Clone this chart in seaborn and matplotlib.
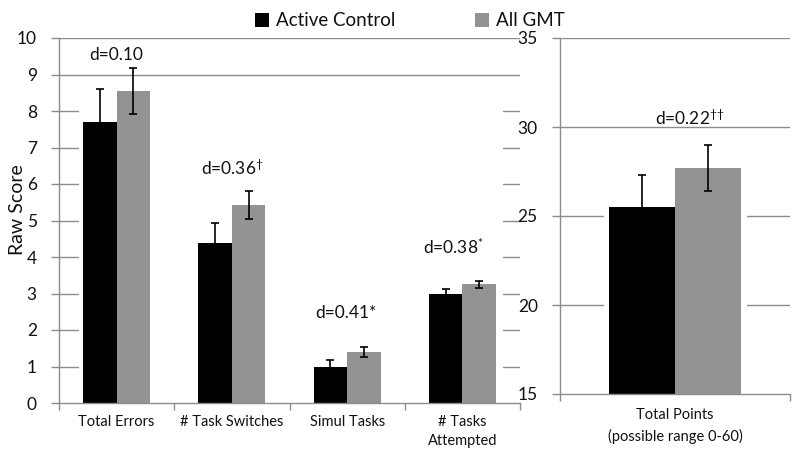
import matplotlib
matplotlib.use("Agg")
import matplotlib.pyplot as plt
import seaborn as sns
import pandas as pd
from matplotlib.patches import Patch

# ---------------- data ----------------
groups = ["Active Control", "All GMT"]
colors = ["#000000", "#939393"]

tasks = ["Total Errors", "# Task Switches", "Simul Tasks", "# Tasks\nAttempted"]
control_means = [7.70, 4.39, 0.98, 3.00]
control_err = [0.89, 0.53, 0.20, 0.13]
gmt_means = [8.56, 5.42, 1.40, 3.25]
gmt_err = [0.63, 0.38, 0.13, 0.09]
task_effects = ["d=0.10", "d=0.36$^{†}$", "d=0.41*", "d=0.38$^{*}$"]

points_cat = ["Total Points\n(possible range 0-60)"]
points_control = [25.5]
points_control_err = [1.8]
points_gmt = [27.7]
points_gmt_err = [1.3]
points_effect = ["d=0.22$^{††}$"]

left_ticks = [0, 1, 2, 3, 4, 5, 6, 7, 8, 9, 10]
right_ticks = [15, 20, 25, 30, 35]

# ---------------- style ----------------
sns.set_theme(style="white")
plt.rcParams["font.family"] = ["Lato", "DejaVu Sans"]
plt.rcParams["mathtext.fontset"] = "custom"
plt.rcParams["mathtext.rm"] = "Lato"
plt.rcParams["mathtext.it"] = "Lato"
plt.rcParams["mathtext.bf"] = "Lato"

AX_COL = "#8c8c8c"
ERR_COL = "#000000"
TXT_COL = "#111111"

df_tasks = pd.DataFrame({
    "task": tasks * 2,
    "group": [groups[0]] * len(tasks) + [groups[1]] * len(tasks),
    "value": control_means + gmt_means,
})
df_points = pd.DataFrame({
    "task": points_cat * 2,
    "group": [groups[0], groups[1]],
    "value": points_control + points_gmt,
})

fig = plt.figure(figsize=(7.99, 4.59), dpi=100)
axL = fig.add_axes([59 / 799, (459 - 403) / 459, 461 / 799, 365 / 459])
axR = fig.add_axes([560 / 799, (459 - 394) / 459, 230 / 799, 356 / 459])


def draw(ax, df, errs, width):
    sns.barplot(data=df, x="task", y="value", hue="group", hue_order=groups,
                palette=colors, width=width, errorbar=None, dodge=True,
                saturation=1, ax=ax, legend=False, zorder=2, linewidth=0)
    for cont, err in zip(ax.containers, errs):
        xs = [b.get_x() + b.get_width() / 2 for b in cont]
        ys = [b.get_height() for b in cont]
        ax.errorbar(xs, ys, yerr=err, fmt="none", ecolor=ERR_COL,
                    elinewidth=1.2, capsize=3.2, capthick=1.2, zorder=3)


draw(axL, df_tasks, [control_err, gmt_err], 0.58)
draw(axR, df_points, [points_control_err, points_gmt_err], 0.575)

# ---- left axis formatting ----
axL.set_xlim(-0.5, 3.5)
axL.set_ylim(0, 10)
axL.set_yticks(left_ticks)
axL.set_yticklabels([str(t) for t in left_ticks], fontsize=12.5, color=TXT_COL)
axL.set_xlabel("")
axL.set_ylabel("Raw Score", fontsize=14, color=TXT_COL)
axL.yaxis.set_label_coords(-0.072, 0.53)
axL.tick_params(axis="x", length=0, labelsize=10.5, pad=9, labelcolor=TXT_COL)
for lab in axL.get_xticklabels():
    lab.set_linespacing(1.45)
axL.set_xticks([-0.5, 0.5, 1.5, 2.5, 3.5], minor=True)
axL.tick_params(axis="x", which="minor", length=5, color=AX_COL, width=1,
                direction="out", bottom=True)
axL.tick_params(axis="y", length=6, color=AX_COL, width=1, direction="out",
                left=True, pad=10)
for s in ["top", "right"]:
    axL.spines[s].set_visible(False)
for s in ["left", "bottom"]:
    axL.spines[s].set_color(AX_COL)
    axL.spines[s].set_linewidth(1)
for t in left_ticks[1:]:
    if t >= 9:
        axL.axhline(t, color=AX_COL, lw=1, zorder=0.5)
    else:
        axL.axhline(t, xmin=0, xmax=0.041, color=AX_COL, lw=1, zorder=0.5)
        axL.axhline(t, xmin=0.963, xmax=1.0, color=AX_COL, lw=1, zorder=0.5)

ann_pos_L = [(0.0, 9.53), (1.0, 6.44), (1.99, 2.47), (2.92, 4.27)]
for (x, y), txt in zip(ann_pos_L, task_effects):
    axL.text(x, y, txt, ha="center", va="center", fontsize=12.5, color=TXT_COL)

# ---- right axis formatting ----
axR.set_xlim(-0.5, 0.5)
axR.set_ylim(15, 35)
axR.set_yticks(right_ticks)
axR.set_yticklabels([str(t) for t in right_ticks], fontsize=12.5, color=TXT_COL)
axR.set_xlabel("")
axR.set_ylabel("")
axR.tick_params(axis="x", length=0, labelsize=10.5, pad=10, labelcolor=TXT_COL)
for lab in axR.get_xticklabels():
    lab.set_linespacing(1.55)
axR.set_xticks([-0.5, 0.5], minor=True)
axR.tick_params(axis="x", which="minor", length=5, color=AX_COL, width=1,
                direction="out", bottom=True)
axR.tick_params(axis="y", length=6, color=AX_COL, width=1, direction="out",
                left=True, pad=10)
for s in ["top", "right"]:
    axR.spines[s].set_visible(False)
for s in ["left", "bottom"]:
    axR.spines[s].set_color(AX_COL)
    axR.spines[s].set_linewidth(1)
for t in right_ticks[1:]:
    if t >= 30:
        axR.axhline(t, color=AX_COL, lw=1, zorder=0.5)
    else:
        axR.axhline(t, xmin=0, xmax=0.187, color=AX_COL, lw=1, zorder=0.5)
        axR.axhline(t, xmin=0.813, xmax=1.0, color=AX_COL, lw=1, zorder=0.5)

axR.text(0.065, 30.5, points_effect[0], ha="center", va="center",
         fontsize=12.5, color=TXT_COL)

# ---- legend ----
handles = [Patch(facecolor=c, edgecolor="none") for c in colors]
fig.legend(handles, groups, loc="upper center", bbox_to_anchor=(0.513, 1.01),
           ncol=2, frameon=False, fontsize=13.5, handlelength=0.75,
           handleheight=0.75, handletextpad=0.4, columnspacing=4.2,
           labelcolor=TXT_COL)

fig.savefig("out.png", dpi=100)
